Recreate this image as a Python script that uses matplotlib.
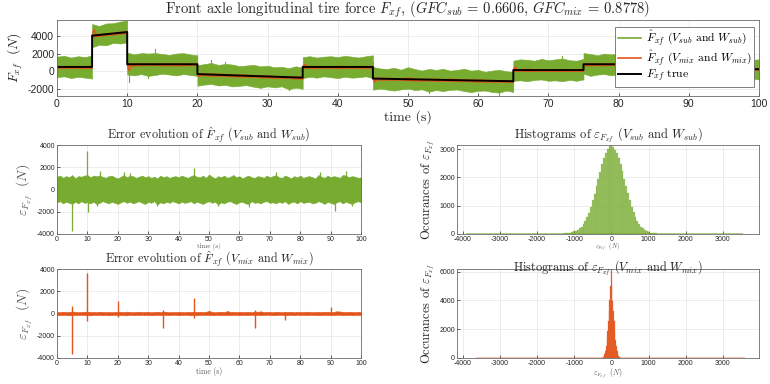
import numpy as np
import matplotlib
matplotlib.use('Agg')
import matplotlib.pyplot as plt
from matplotlib.lines import Line2D

plt.rcParams['mathtext.fontset'] = 'cm'
plt.rcParams['font.family'] = ['Liberation Sans', 'DejaVu Sans']
plt.rcParams['axes.unicode_minus'] = False

# ---------------- data ----------------
# true force: piecewise linear segments
seg_t0 = [0, 5, 10, 20, 35, 45, 65, 75, 90]
seg_t1 = [5, 10, 20, 35, 45, 65, 75, 90, 100]
seg_v0 = [500, 4000, 800, -300, 500, -800, 150, 800, 250]
seg_v1 = [500, 4400, 800, -700, 500, -1100, 150, 800, 250]

# error envelope of the (V_sub, W_sub) estimate, one sample per second (t = 0..100)
env_t = list(range(101))
sub_hi = [1150, 1250, 1050, 1200, 1100, 1300, 1000, 1200, 1150, 1250,
          1300, 1100, 1250, 1200, 1250, 1150, 1050, 1200, 1250, 1100,
          1000, 1150, 1300, 1100, 1250, 1200, 1050, 1150, 1250, 1100,
          1200, 1050, 1150, 1000, 1250, 1100, 1200, 1050, 1150, 1200,
          1100, 1250, 1150, 1050, 1200, 1300, 1150, 1100, 1250, 1050,
          1350, 1150, 1000, 1200, 1100, 1250, 1050, 1150, 1300, 1100,
          1200, 1000, 1150, 1250, 1100, 1050, 1200, 1150, 1050, 1250,
          1100, 1200, 1300, 1100, 1050, 1250, 1150, 1000, 1200, 1100,
          1250, 1050, 1150, 1200, 1100, 1000, 1300, 1150, 1050, 1250,
          1100, 1200, 1150, 1050, 1300, 1250, 1100, 1200, 1150, 1050, 1100]
sub_lo = [-1150, -1050, -1250, -1100, -1200, -1300, -1100, -1250, -1050, -1200,
          -1150, -1250, -1100, -1300, -1200, -1050, -1150, -1250, -1100, -1200,
          -1300, -1150, -1050, -1200, -1100, -1250, -1150, -1050, -1200, -1300,
          -1100, -1200, -1050, -1350, -1150, -1250, -1100, -1200, -1050, -1150,
          -1250, -1100, -1200, -1150, -1050, -1250, -1100, -1200, -1300, -1150,
          -1050, -1200, -1100, -1350, -1150, -1250, -1100, -1050, -1200, -1300,
          -1150, -1100, -1250, -1300, -1050, -1200, -1150, -1250, -1100, -1050,
          -1200, -1150, -1250, -1100, -1200, -1050, -1300, -1150, -1100, -1250,
          -1050, -1200, -1150, -1100, -1250, -1200, -1050, -1150, -1300, -1100,
          -1200, -1300, -1150, -1050, -1250, -1100, -1200, -1300, -1150, -1050, -1150]
# isolated spikes of the (V_sub, W_sub) error
sub_sp_t = [5, 10, 10.2, 13, 14, 22, 24, 33, 45, 53, 63, 72, 86.5, 91.5, 95, 97]
sub_sp_v = [-3750, 3500, -2000, -1500, 1700, 1600, 1500, -1450, 1900, -1450,
            -1600, 1600, 1600, -1900, 1650, -1500]

# error envelope of the (V_mix, W_mix) estimate, one sample per second
mix_hi = [150, 120, 160, 130, 140, 180, 150, 120, 140, 160,
          170, 130, 150, 120, 160, 140, 130, 150, 120, 140,
          160, 150, 130, 170, 140, 120, 150, 160, 130, 140,
          150, 120, 140, 160, 130, 170, 150, 120, 140, 130,
          160, 140, 120, 150, 130, 170, 140, 160, 130, 150,
          240, 140, 120, 150, 160, 130, 220, 140, 150, 120,
          160, 130, 140, 150, 120, 180, 150, 200, 130, 140,
          150, 120, 160, 140, 130, 150, 140, 160, 120, 150,
          140, 130, 160, 150, 120, 140, 150, 130, 160, 140,
          150, 140, 200, 180, 150, 130, 160, 140, 120, 150, 130]
mix_lo = [-130, -150, -120, -140, -160, -130, -150, -120, -140, -130,
          -150, -170, -130, -140, -120, -150, -130, -160, -140, -120,
          -150, -130, -140, -160, -120, -150, -130, -140, -120, -150,
          -130, -160, -140, -120, -150, -130, -140, -150, -120, -130,
          -150, -140, -120, -130, -160, -140, -150, -130, -120, -140,
          -130, -150, -140, -120, -160, -130, -140, -150, -120, -130,
          -150, -140, -130, -150, -120, -140, -130, -150, -140, -120,
          -130, -150, -140, -120, -130, -160, -140, -130, -150, -120,
          -140, -130, -150, -120, -140, -130, -150, -140, -120, -130,
          -150, -140, -130, -120, -150, -140, -130, -150, -140, -120, -130]
# transients of the (V_mix, W_mix) error at each step of the true force
mix_tr_t = [5, 10, 20, 35, 45, 65, 75, 90]
mix_tr_lo = [-3600, -700, -300, -1300, -400, -1300, -600, -100]
mix_tr_hi = [700, 3600, 1100, 300, 1400, 350, 100, 600]

# histogram counts
hsub_c = list(range(-1500, 1501, 50))
hsub_n = [4, 6, 9, 12, 17, 23, 30, 40, 52, 68, 90, 118, 155, 200, 262, 345, 450, 590,
          760, 960, 1190, 1430, 1690, 1950, 2210, 2470, 2680, 2880, 3010, 3120, 3150,
          3080, 2990, 2870, 2700, 2470, 2220, 1960, 1700, 1440, 1190, 970, 780, 610,
          470, 355, 265, 195, 140, 100, 72, 52, 38, 28, 20, 14, 10, 7, 5, 3, 2]
hsub_range = [-3900, 3550]
hmix_c = list(range(-260, 261, 20))
hmix_n = [10, 25, 60, 140, 280, 500, 850, 1300, 1900, 2600, 3300, 4000, 5000, 6150,
          4950, 3950, 3250, 2550, 1850, 1250, 820, 480, 270, 130, 55, 22, 8]
hmix_range = [-3640, 3590]

GREEN = '#77AC30'
ORANGE = '#E3541B'
TXT = '#262626'
GREY = '#555555'
SERIF = 'cmr10'

# ---------------- figure ----------------
fig = plt.figure(figsize=(7.7, 3.84), dpi=100)
W, H = 770.0, 384.0


def axes_px(x0, x1, y0, y1):
    return fig.add_axes([x0 / W, 1 - y1 / H, (x1 - x0) / W, (y1 - y0) / H])


def style(ax, fs, pad=2):
    ax.tick_params(direction='in', length=2.5, width=0.5, labelsize=fs,
                   colors=TXT, pad=pad)
    for s in ax.spines.values():
        s.set_color('#6a6a6a')
        s.set_linewidth(0.6)
    ax.grid(True, color='#e4e4e4', lw=0.5)
    ax.set_axisbelow(True)


env_t = np.array(env_t)
sub_hi = np.array(sub_hi); sub_lo = np.array(sub_lo)
mix_hi = np.array(mix_hi); mix_lo = np.array(mix_lo)


def true_at(t):
    for a, b, v0, v1 in zip(seg_t0, seg_t1, seg_v0, seg_v1):
        if a <= t < b or (t == b == seg_t1[-1]):
            return v0 + (v1 - v0) * (t - a) / (b - a)
    return seg_v1[-1]


# ---- top axes
ax = axes_px(57, 759, 20, 96)
style(ax, 7.5)
for a, b, v0, v1 in zip(seg_t0, seg_t1, seg_v0, seg_v1):
    m = (env_t >= a) & (env_t <= b)
    tt = env_t[m]
    base = v0 + (v1 - v0) * (tt - a) / (b - a)
    ax.fill_between(tt, base + sub_lo[m], base + sub_hi[m], color=GREEN, lw=0.4,
                    edgecolor=GREEN)
for t, v in zip(sub_sp_t, sub_sp_v):
    if t in (5, 10):
        continue
    b0 = true_at(t)
    ax.plot([t, t], [b0, b0 + v], color=GREEN, lw=0.8)
for a, b, v0, v1 in zip(seg_t0, seg_t1, seg_v0, seg_v1):
    m = (env_t >= a) & (env_t <= b)
    tt = env_t[m]
    base = v0 + (v1 - v0) * (tt - a) / (b - a)
    ax.fill_between(tt, base + mix_lo[m], base + mix_hi[m], color=ORANGE, lw=0.3)
for k, t in enumerate(mix_tr_t):
    vnew = seg_v0[k + 1]
    jump = vnew - seg_v1[k]
    over = mix_tr_hi[k] if jump > 0 else mix_tr_lo[k]
    ax.plot([t, t + 0.25, t + 0.7], [vnew, vnew + over, vnew], color=ORANGE, lw=1.0)
xs = np.ravel(np.column_stack([seg_t0, seg_t1]))
ys = np.ravel(np.column_stack([seg_v0, seg_v1]))
ax.plot(xs, ys, color='black', lw=1.4)
ax.set_xlim(0, 100)
ax.set_ylim(-2750, 5750)
ax.set_xticks(range(0, 101, 10))
ax.set_yticks([-2000, 0, 2000, 4000])
ax.set_title(r'Front axle longitudinal tire force $F_{xf}$, $(GFC_{sub}\,=\,0.6606,\,GFC_{mix}\,=\,0.8778)$',
             fontsize=10.5, family=SERIF, color=TXT, pad=3)
ax.set_xlabel('time (s)', fontsize=10, family=SERIF, color=TXT, labelpad=1)
ax.set_ylabel(r'$F_{xf}\ \ (N)$', fontsize=10, color=TXT, labelpad=2)
handles = [Line2D([], [], color=GREEN, lw=1.2), Line2D([], [], color=ORANGE, lw=1.2),
           Line2D([], [], color='black', lw=1.4)]
labels = [r'$\hat{F}_{xf}$ $(V_{sub}$ and $W_{sub})$',
          r'$\hat{F}_{xf}$ $(V_{mix}$ and $W_{mix})$',
          r'$F_{xf}$ true']
leg = ax.legend(handles, labels, loc='upper right', bbox_to_anchor=(0.993, 0.908),
                borderaxespad=0, fancybox=False, framealpha=1, edgecolor='#6a6a6a',
                prop={'family': SERIF, 'size': 8.4}, handlelength=2.0,
                borderpad=0.2, labelspacing=0.0, handletextpad=0.4)
leg.get_frame().set_linewidth(0.6)

# ---- error evolution, sub
ax = axes_px(57, 361, 145, 234)
style(ax, 5, pad=1.5)
ax.fill_between(env_t, sub_lo, sub_hi, color=GREEN, lw=0.4, edgecolor=GREEN)
ax.vlines(sub_sp_t, 0, sub_sp_v, color=GREEN, lw=0.9)
ax.set_xlim(0, 100)
ax.set_ylim(-4000, 4000)
ax.set_xticks(range(0, 101, 10))
ax.set_yticks(range(-4000, 4001, 2000))
ax.set_title(r'Error evolution of $\hat{F}_{xf}$ $(V_{sub}$ and $W_{sub})$',
             fontsize=8.7, family=SERIF, color=TXT, pad=1)
ax.set_xlabel('time (s)', fontsize=5, family=SERIF, color=GREY, labelpad=0)
ax.set_ylabel(r'$\varepsilon_{F_{xf}}\ \ (N)$', fontsize=10, color=GREY, labelpad=2)

# ---- error evolution, mix
ax = axes_px(57, 361, 269, 358)
style(ax, 5, pad=1.5)
ax.fill_between(env_t, mix_lo, mix_hi, color=ORANGE, lw=0.4, edgecolor=ORANGE)
ax.vlines(mix_tr_t, mix_tr_lo, mix_tr_hi, color=ORANGE, lw=1.0)
ax.set_xlim(0, 100)
ax.set_ylim(-4000, 4000)
ax.set_xticks(range(0, 101, 10))
ax.set_yticks(range(-4000, 4001, 2000))
ax.set_title(r'Error evolution of $\hat{F}_{xf}$ $(V_{mix}$ and $W_{mix})$',
             fontsize=8.7, family=SERIF, color=TXT, pad=0.5)
ax.set_xlabel('time (s)', fontsize=5.5, family=SERIF, color=GREY, labelpad=0)
ax.set_ylabel(r'$\varepsilon_{F_{xf}}\ \ (N)$', fontsize=10, color=GREY, labelpad=2)

# ---- histogram, sub
ax = axes_px(457, 759, 145, 234)
style(ax, 5, pad=1.5)
ax.hlines(0, hsub_range[0], hsub_range[1], color=GREEN, lw=1.2, alpha=0.7)
ax.bar(hsub_c, hsub_n, width=50, color=GREEN, alpha=0.75, edgecolor=GREEN, lw=0.2)
ax.set_xlim(-4150, 3970)
ax.set_ylim(0, 3150)
ax.set_xticks(range(-4000, 3001, 1000))
ax.set_yticks([0, 1000, 2000, 3000])
ax.set_title(r'Histograms of $\varepsilon_{F_{xf}}$ $(V_{sub}$ and $W_{sub})$',
             fontsize=9.0, family=SERIF, color=TXT, pad=1)
ax.set_xlabel(r'$\varepsilon_{F_{xf}}\ \ (N)$', fontsize=4.6, color=GREY, labelpad=-0.8)
ax.set_ylabel(r'Occurances of $\varepsilon_{F_{xf}}$', fontsize=9, family=SERIF,
              color=TXT, labelpad=2)

# ---- histogram, mix
ax = axes_px(457, 759, 269, 358)
style(ax, 5, pad=1.5)
ax.hlines(0, hmix_range[0], hmix_range[1], color=ORANGE, lw=1.2, alpha=0.4)
ax.bar(hmix_c, hmix_n, width=20, color=ORANGE, alpha=0.9, edgecolor=ORANGE, lw=0.2)
ax.set_xlim(-4150, 3970)
ax.set_ylim(0, 6190)
ax.set_xticks(range(-4000, 3001, 1000))
ax.set_yticks([0, 2000, 4000, 6000])
ax.set_title(r'Histograms of $\varepsilon_{F_{xf}}$ $(V_{mix}$ and $W_{mix})$',
             fontsize=8.8, family=SERIF, color=TXT, pad=0, y=0.975)
ax.set_xlabel(r'$\varepsilon_{F_{xf}}\ \ (N)$', fontsize=5.5, color=GREY, labelpad=0)
ax.set_ylabel(r'Occurances of $\varepsilon_{F_{xf}}$', fontsize=9, family=SERIF,
              color=TXT, labelpad=2)

fig.savefig('out.png', dpi=100)
